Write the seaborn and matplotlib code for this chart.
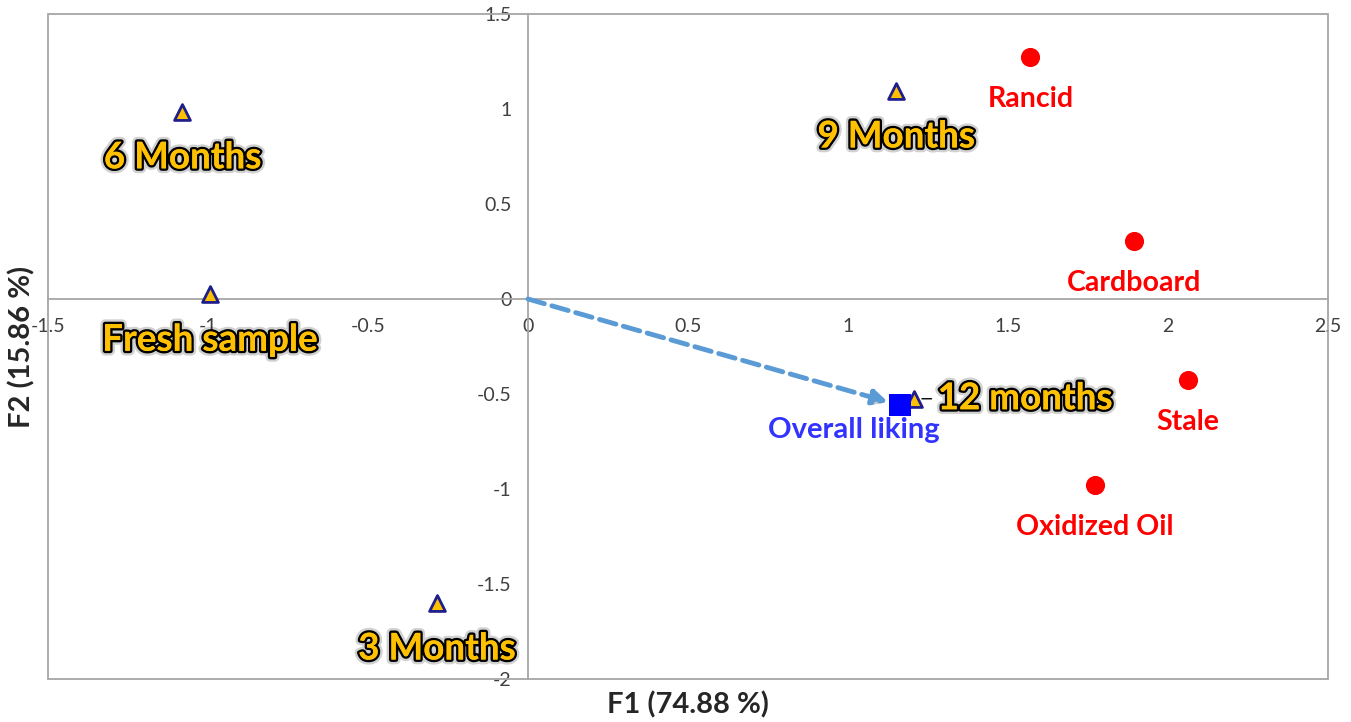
import pandas as pd
import matplotlib.pyplot as plt
import matplotlib.patheffects as pe
from matplotlib.patches import Rectangle
import seaborn as sns

# storage time observations (F1, F2)
samples = ["6 Months", "Fresh sample", "3 Months", "9 Months", "12 months"]
samples_f1 = [-1.08, -0.995, -0.285, 1.15, 1.205]
samples_f2 = [0.985, 0.025, -1.60, 1.095, -0.525]

# sensory attributes
attributes = ["Rancid", "Cardboard", "Stale", "Oxidized Oil"]
attributes_f1 = [1.57, 1.895, 2.063, 1.772]
attributes_f2 = [1.275, 0.305, -0.425, -0.98]

# supplementary variable
liking_name = "Overall liking"
liking_f1 = [1.163]
liking_f2 = [-0.56]

x_ticks = [-1.5, -1, -0.5, 0, 0.5, 1, 1.5, 2, 2.5]
y_ticks = [-2, -1.5, -1, -0.5, 0, 0.5, 1, 1.5]

df_s = pd.DataFrame({"F1": samples_f1, "F2": samples_f2, "name": samples})
df_a = pd.DataFrame({"F1": attributes_f1, "F2": attributes_f2, "name": attributes})
df_l = pd.DataFrame({"F1": liking_f1, "F2": liking_f2})

sns.set_style("white")
plt.rcParams["font.family"] = ["Lato", "DejaVu Sans"]

fig = plt.figure(figsize=(13.51, 7.22), dpi=100)
ax = fig.add_axes([48 / 1351, 43 / 722, 1280 / 1351, 665 / 722])

# arrow from origin to overall liking
ax.annotate("", xy=(liking_f1[0], liking_f2[0]), xytext=(0, 0),
            arrowprops=dict(arrowstyle="-|>", color="#5B9BD5", lw=3.5, linestyle=(0, (3.5, 1.6)),
                            mutation_scale=22, shrinkA=0, shrinkB=9,
                            path_effects=[pe.SimplePatchShadow(offset=(1.5, -1.5), alpha=0.25), pe.Normal()]))

sns.scatterplot(data=df_s, x="F1", y="F2", ax=ax, marker="^", s=130, color="#FFC000",
                edgecolor="#1F1F8C", linewidth=2, zorder=4)
sns.scatterplot(data=df_a, x="F1", y="F2", ax=ax, marker="o", s=190, color="#FF0000",
                edgecolor="#FF0000", linewidth=0, zorder=4)
sns.scatterplot(data=df_l, x="F1", y="F2", ax=ax, marker="s", s=230, color="#0000FF",
                edgecolor="#0000FF", linewidth=0, zorder=5)

gold_fx = [pe.withStroke(linewidth=7, foreground=(0, 0, 0, 0.18)),
           pe.withStroke(linewidth=3.5, foreground="black"), pe.Normal()]

for i, row in df_s.iterrows():
    if row["name"] == "12 months":
        ax.annotate(row["name"], (row["F1"], row["F2"]), xytext=(24, 0), textcoords="offset pixels",
                    ha="left", va="center", fontsize=26.5, fontweight="bold", color="#FFC000",
                    path_effects=gold_fx, zorder=6,
                    arrowprops=dict(arrowstyle="-", color="black", lw=1, shrinkA=2, shrinkB=6))
    else:
        ax.annotate(row["name"], (row["F1"], row["F2"]), xytext=(0, -46), textcoords="offset pixels",
                    ha="center", va="center", fontsize=26.5, fontweight="bold", color="#FFC000",
                    path_effects=gold_fx, zorder=6)

for i, row in df_a.iterrows():
    ax.annotate(row["name"], (row["F1"], row["F2"]), xytext=(0, -42), textcoords="offset pixels",
                ha="center", va="center", fontsize=20.5, fontweight="bold", color="#FF0000", zorder=6)

ax.annotate(liking_name, (liking_f1[0], liking_f2[0]), xytext=(-46, -25), textcoords="offset pixels",
            ha="center", va="center", fontsize=21, fontweight="bold", color="#3333FF", zorder=6)

ax.set_xlim(-1.5, 2.5)
ax.set_ylim(-2, 1.5)
ax.set_xticks(x_ticks)
ax.set_yticks(y_ticks)
ax.set_xticklabels([f"{t:g}" for t in x_ticks])
ax.set_yticklabels([f"{t:g}" for t in y_ticks])

# axes through the origin, frame around the plot area
for side in ["left", "bottom"]:
    ax.spines[side].set_position(("data", 0))
    ax.spines[side].set_color("#A6A6A6")
    ax.spines[side].set_linewidth(1.3)
for side in ["top", "right"]:
    ax.spines[side].set_visible(False)
ax.add_patch(Rectangle((0, 0), 1, 1, transform=ax.transAxes, fill=False,
                       edgecolor="#A6A6A6", linewidth=1.3, zorder=1, clip_on=False))

ax.tick_params(axis="x", length=0, pad=14, labelsize=14, labelcolor="#404040")
ax.tick_params(axis="y", length=0, pad=12, labelsize=14, labelcolor="#404040")

ax.set_xlabel("")
ax.set_ylabel("")
fig.text(688 / 1351, 1 - 705 / 722, "F1 (74.88 %)", ha="center", va="center",
         fontsize=21, fontweight="bold", color="#262626")
fig.text(22 / 1351, 1 - 347 / 722, "F2 (15.86 %)", ha="center", va="center", rotation=90,
         fontsize=21, fontweight="bold", color="#262626")

fig.savefig("out.png", dpi=100)
